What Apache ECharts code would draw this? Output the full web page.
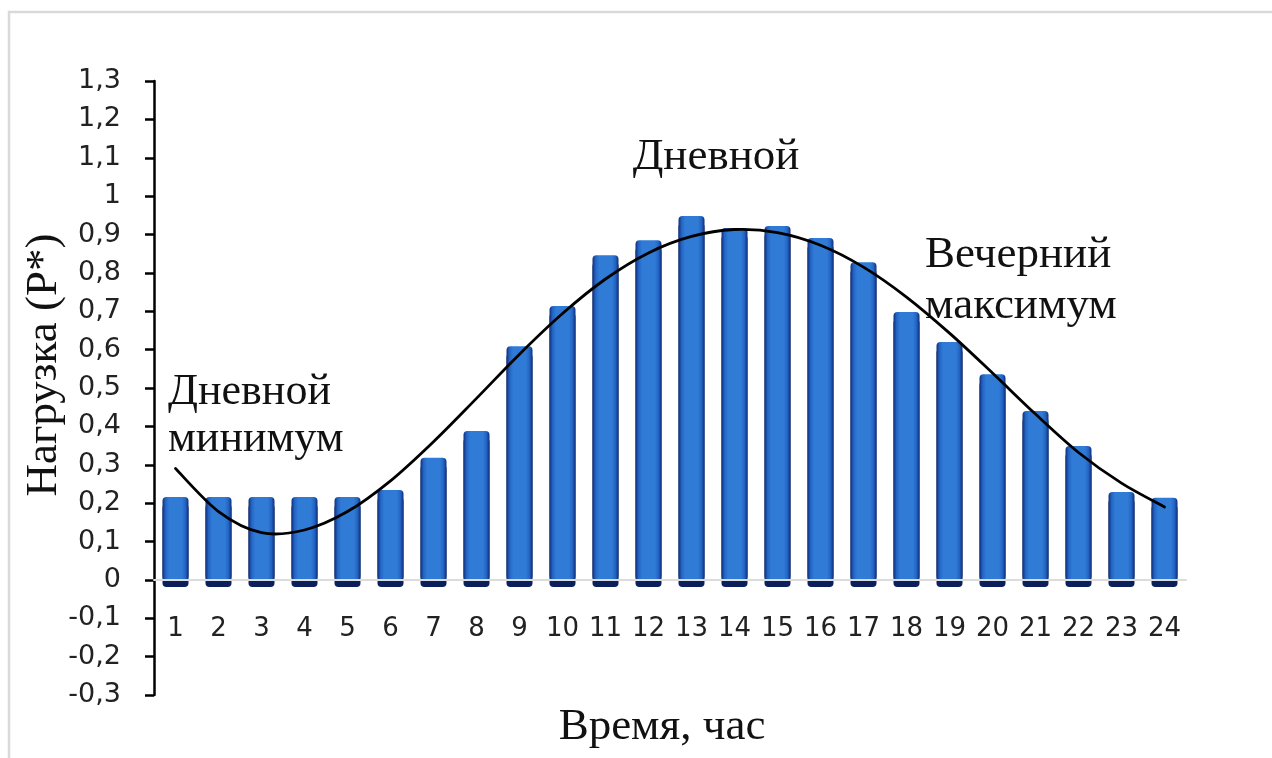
<!DOCTYPE html>
<html>
<head>
<meta charset="utf-8">
<title>Нагрузка</title>
<script src="https://cdn.jsdelivr.net/npm/echarts@6/dist/echarts.min.js"></script>
<style>
  html, body { margin: 0; padding: 0; background: #fff; }
  #chart { width: 1272px; height: 758px; }
</style>
</head>
<body>
<div id="chart"></div>
<script>
// Hours of the day
const hours = ['1','2','3','4','5','6','7','8','9','10','11','12','13','14','15','16','17','18','19','20','21','22','23','24'];
// Hourly load, per-unit (P*)
const loadValues = [0.216, 0.216, 0.216, 0.216, 0.216, 0.234, 0.318, 0.388, 0.609, 0.714, 0.846, 0.885,
                    0.948, 0.917, 0.922, 0.891, 0.828, 0.698, 0.620, 0.536, 0.440, 0.349, 0.229, 0.214];
// Smoothed trend of the load
const trendValues = [0.290, 0.178, 0.123, 0.130, 0.178, 0.258, 0.360, 0.473, 0.588, 0.694, 0.784, 0.852,
                     0.895, 0.913, 0.905, 0.872, 0.815, 0.737, 0.643, 0.539, 0.432, 0.332, 0.252, 0.190];
// Value axis range
const yMin = -0.3, yMax = 1.3, yStep = 0.1;

const serif = '"Liberation Serif", "Times New Roman", serif';
const sans = '"DejaVu Sans", sans-serif';

const gridTop = 81, gridBottom = 63, chartHeight = 758;
const plotHeight = chartHeight - gridTop - gridBottom;
// shift the category axis up from the grid bottom to the zero level
const zeroOffset = Math.round(plotHeight * (0 - yMin) / (yMax - yMin));

const chart = echarts.init(document.getElementById('chart'), null, { renderer: 'canvas' });

const fmt = v => String(Math.round(v * 10) / 10).replace('.', ',');

// Catmull-Rom spline through the trend points, as cubic Bezier path data
function splinePath(pts) {
  let d = 'M' + pts[0][0] + ',' + pts[0][1];
  for (let i = 0; i < pts.length - 1; i++) {
    const p0 = pts[Math.max(i - 1, 0)];
    const p1 = pts[i];
    const p2 = pts[i + 1];
    const p3 = pts[Math.min(i + 2, pts.length - 1)];
    const c1x = p1[0] + (p2[0] - p0[0]) / 6, c1y = p1[1] + (p2[1] - p0[1]) / 6;
    const c2x = p2[0] - (p3[0] - p1[0]) / 6, c2y = p2[1] - (p3[1] - p1[1]) / 6;
    d += 'C' + c1x + ',' + c1y + ',' + c2x + ',' + c2y + ',' + p2[0] + ',' + p2[1];
  }
  return d;
}

chart.setOption({
  animation: false,
  backgroundColor: '#ffffff',
  grid: { left: 154, right: 86, top: gridTop, bottom: gridBottom, containLabel: false },
  xAxis: {
    type: 'category',
    data: hours,
    position: 'bottom',
    offset: -zeroOffset,
    z: 3,
    axisLine: { onZero: false, lineStyle: { color: '#dcdcdc', width: 2 } },
    axisTick: { show: false },
    axisLabel: { interval: 0, margin: 36, fontFamily: sans, fontSize: 26, color: '#222' },
    splitLine: { show: false }
  },
  yAxis: {
    type: 'value',
    min: yMin, max: yMax, interval: yStep,
    axisLine: { show: true, lineStyle: { color: '#000', width: 2.5 } },
    axisTick: { show: true, inside: false, length: 9, lineStyle: { color: '#000', width: 2.5 } },
    axisLabel: { margin: 33, fontFamily: sans, fontSize: 27, color: '#222', formatter: fmt },
    splitLine: { show: false }
  },
  series: [
    {
      type: 'bar',
      data: loadValues,
      barWidth: 26,
      z: 2,
      itemStyle: {
        color: {
          type: 'linear', x: 0, y: 0, x2: 1, y2: 0,
          colorStops: [
            { offset: 0, color: '#0e2f7a' },
            { offset: 0.12, color: '#2464c4' },
            { offset: 0.25, color: '#2f7bd6' },
            { offset: 0.75, color: '#2f7bd6' },
            { offset: 0.88, color: '#2464c4' },
            { offset: 1, color: '#0e2f7a' }
          ]
        },
        borderRadius: 4,
        shadowColor: '#0a1f5c',
        shadowBlur: 0,
        shadowOffsetY: 7
      }
    },
    {
      type: 'custom',
      z: 4,
      silent: true,
      data: trendValues.map((v, i) => [i, v]),
      renderItem: function (params, api) {
        if (params.dataIndex !== 0) return null;
        const pts = trendValues.map((v, i) => api.coord([i, v]));
        return {
          type: 'path',
          shape: { pathData: splinePath(pts) },
          style: { fill: 'none', stroke: '#000', lineWidth: 2.8, lineJoin: 'round', lineCap: 'round' }
        };
      }
    }
  ],
  graphic: [
    {
      type: 'rect',
      shape: { x: 9, y: 12, width: 1300, height: 800 },
      style: { fill: 'none', stroke: '#d9d9d9', lineWidth: 2.5 },
      silent: true, z: -1
    },
    {
      type: 'text', x: 716, y: 157,
      style: { text: 'Дневной', font: '45px ' + serif, fill: '#111', textAlign: 'center', textVerticalAlign: 'middle' }
    },
    {
      type: 'text', x: 168, y: 416,
      style: { text: 'Дневной\nминимум', font: '44px ' + serif, fill: '#111', textAlign: 'left', textVerticalAlign: 'middle', lineHeight: 47 }
    },
    {
      type: 'text', x: 925, y: 281,
      style: { text: 'Вечерний\nмаксимум', font: '45px ' + serif, fill: '#111', textAlign: 'left', textVerticalAlign: 'middle', lineHeight: 51 }
    },
    {
      type: 'text', x: 662, y: 727,
      style: { text: 'Время, час', font: '45px ' + serif, fill: '#111', textAlign: 'center', textVerticalAlign: 'middle' }
    },
    {
      type: 'text', x: 44, y: 365, rotation: Math.PI / 2,
      style: { text: 'Нагрузка (P*)', font: '45px ' + serif, fill: '#111', textAlign: 'center', textVerticalAlign: 'middle' }
    }
  ]
});
</script>
</body>
</html>
